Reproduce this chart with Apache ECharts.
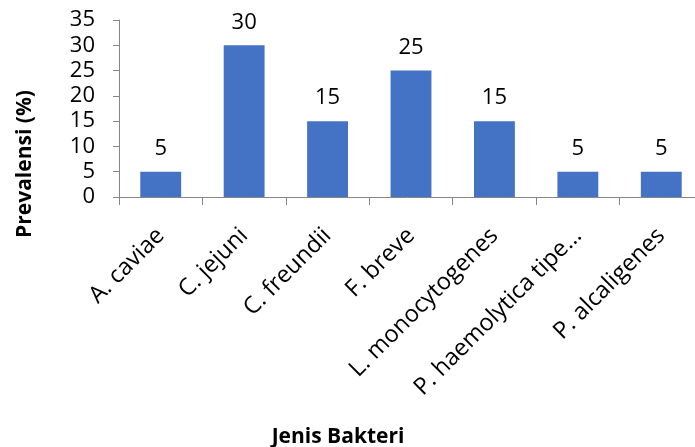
<!DOCTYPE html>
<html><head><meta charset="utf-8">
<script src="https://cdn.jsdelivr.net/npm/echarts@6/dist/echarts.min.js"></script>
<style>html,body{margin:0;padding:0;background:#fff}#c{width:695px;height:447px}</style>
</head><body><div id="c"></div>
<script>
const categories = ["A. caviae","C. jejuni","C. freundii","F. breve","L. monocytogenes","P. haemolytica tipe…","P. alcaligenes"];
const prevalence = [5,30,15,25,15,5,5];
const yTicks = {min:0,max:35,interval:5};
const xTitle = "Jenis Bakteri";
const yTitle = "Prevalensi (%)";
const FONT = "Open Sans";
const chart = echarts.init(document.getElementById('c'), null, {renderer:'canvas'});
chart.setOption({
  animation:false,
  textStyle:{fontFamily:FONT},
  grid:{left:119, top:20, height:177, width:584, containLabel:false, outerBoundsMode:'none'},
  xAxis:{type:'category', data:categories,
    axisLine:{lineStyle:{color:'#868686',width:1}},
    axisTick:{show:true,length:8,lineStyle:{color:'#868686'}},
    axisLabel:{rotate:45,fontSize:23.5,color:'#000',margin:35,interval:0,fontFamily:FONT}},
  yAxis:{type:'value', min:yTicks.min, max:yTicks.max, interval:yTicks.interval,
    axisLine:{show:true,lineStyle:{color:'#868686',width:1}},
    axisTick:{show:true,length:6,lineStyle:{color:'#868686'}},
    splitLine:{show:false},
    axisLabel:{fontSize:22,color:'#000',margin:24,fontFamily:FONT}},
  series:[{type:'bar', data:prevalence, barCategoryGap:'51%',
    itemStyle:{color:'#4472C4'},
    label:{show:true,position:'top',distance:12,fontSize:22,color:'#000',fontFamily:FONT}}],
  graphic:[
    {type:'text', x:338, y:437, style:{text:xTitle,font:'bold 21px "Open Sans"',fill:'#000',textAlign:'center',textVerticalAlign:'middle'}},
    {type:'text', rotation:Math.PI/2, x:25, y:164, style:{text:yTitle,font:'bold 21px "Open Sans"',fill:'#000',textAlign:'center',textVerticalAlign:'middle'}}
  ]
});
</script></body></html>
